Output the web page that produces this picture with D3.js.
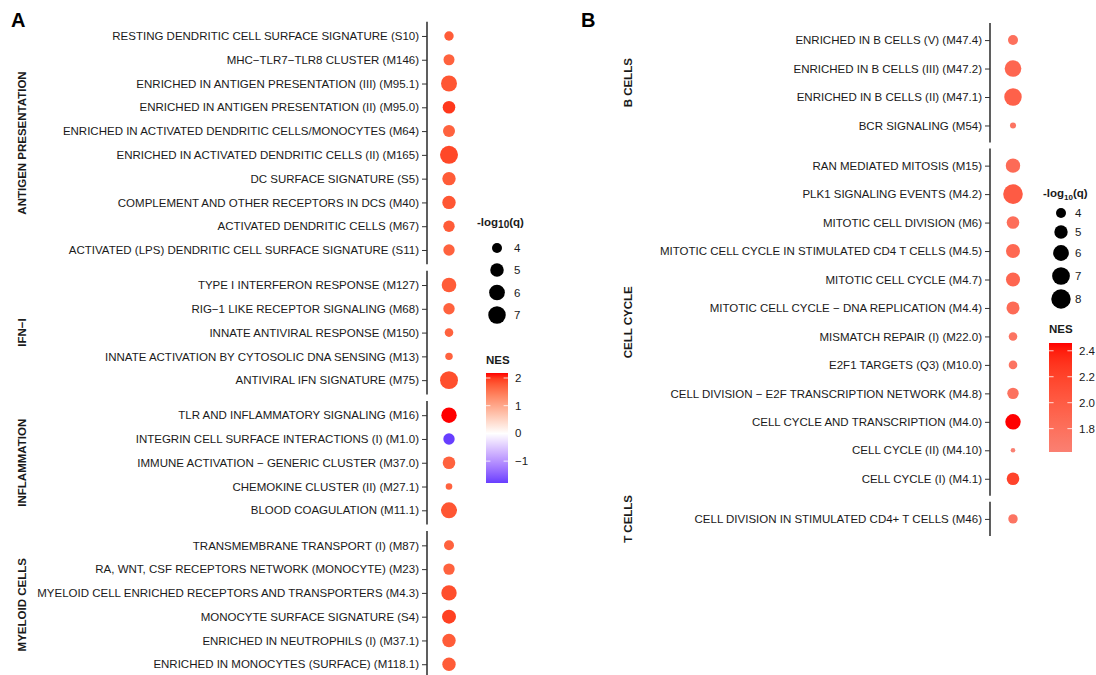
<!DOCTYPE html>
<html lang="en">
<head>
<meta charset="utf-8">
<title>Module enrichment dot plot</title>
<script src="https://cdn.jsdelivr.net/npm/d3@7"></script>
<style>
  body { margin: 0; background: #fff; font-family: "Liberation Sans", Arial, sans-serif; }
  .lab { font-size: 11.5px; fill: #1a1a1a; }
  .strip { font-size: 11.5px; font-weight: bold; fill: #1a1a1a; }
  .ltitle { font-size: 11.5px; font-weight: bold; fill: #1a1a1a; }
  .ltext { font-size: 11.5px; fill: #1a1a1a; }
  .panel-tag { font-size: 20px; font-weight: bold; fill: #000; }
</style>
</head>
<body>
<script>
// ---- panel A data ----
var groupsA = ["ANTIGEN PRESENTATION", "IFN\u2212I", "INFLAMMATION", "MYELOID CELLS"];
var labelsA = [
  "RESTING DENDRITIC CELL SURFACE SIGNATURE (S10)",
  "MHC\u2212TLR7\u2212TLR8 CLUSTER (M146)",
  "ENRICHED IN ANTIGEN PRESENTATION (III) (M95.1)",
  "ENRICHED IN ANTIGEN PRESENTATION (II) (M95.0)",
  "ENRICHED IN ACTIVATED DENDRITIC CELLS/MONOCYTES (M64)",
  "ENRICHED IN ACTIVATED DENDRITIC CELLS (II) (M165)",
  "DC SURFACE SIGNATURE (S5)",
  "COMPLEMENT AND OTHER RECEPTORS IN DCS (M40)",
  "ACTIVATED DENDRITIC CELLS (M67)",
  "ACTIVATED (LPS) DENDRITIC CELL SURFACE SIGNATURE (S11)",
  "TYPE I INTERFERON RESPONSE (M127)",
  "RIG\u22121 LIKE RECEPTOR SIGNALING (M68)",
  "INNATE ANTIVIRAL RESPONSE (M150)",
  "INNATE ACTIVATION BY CYTOSOLIC DNA SENSING (M13)",
  "ANTIVIRAL IFN SIGNATURE (M75)",
  "TLR AND INFLAMMATORY SIGNALING (M16)",
  "INTEGRIN CELL SURFACE INTERACTIONS (I) (M1.0)",
  "IMMUNE ACTIVATION \u2212 GENERIC CLUSTER (M37.0)",
  "CHEMOKINE CLUSTER (II) (M27.1)",
  "BLOOD COAGULATION (M11.1)",
  "TRANSMEMBRANE TRANSPORT (I) (M87)",
  "RA, WNT, CSF RECEPTORS NETWORK (MONOCYTE) (M23)",
  "MYELOID CELL ENRICHED RECEPTORS AND TRANSPORTERS (M4.3)",
  "MONOCYTE SURFACE SIGNATURE (S4)",
  "ENRICHED IN NEUTROPHILS (I) (M37.1)",
  "ENRICHED IN MONOCYTES (SURFACE) (M118.1)"
];
var groupOfA = [0,0,0,0,0,0,0,0,0,0, 1,1,1,1,1, 2,2,2,2,2, 3,3,3,3,3,3];
var nesA = [1.75, 1.70, 1.80, 2.00, 1.70, 1.90, 1.75, 1.80, 1.75, 1.70,
            1.75, 1.70, 1.70, 1.70, 1.85,
            2.18, -1.79, 1.70, 1.70, 1.80,
            1.70, 1.70, 1.85, 1.95, 1.75, 1.75];
var logqA = [3.90, 4.22, 6.13, 4.68, 4.49, 7.29, 4.96, 4.96, 4.32, 4.32,
             5.46, 4.32, 3.79, 3.70, 7.25,
             5.83, 4.32, 4.68, 3.68, 6.13,
             4.00, 4.32, 5.83, 5.20, 4.96, 4.96];
var sizeBreaksA = [4, 5, 6, 7];
var nesBreaksA = [2, 1, 0, -1];

// ---- panel B data ----
var groupsB = ["B CELLS", "CELL CYCLE", "T CELLS"];
var labelsB = [
  "ENRICHED IN B CELLS (V) (M47.4)",
  "ENRICHED IN B CELLS (III) (M47.2)",
  "ENRICHED IN B CELLS (II) (M47.1)",
  "BCR SIGNALING (M54)",
  "RAN MEDIATED MITOSIS (M15)",
  "PLK1 SIGNALING EVENTS (M4.2)",
  "MITOTIC CELL DIVISION (M6)",
  "MITOTIC CELL CYCLE IN STIMULATED CD4 T CELLS (M4.5)",
  "MITOTIC CELL CYCLE (M4.7)",
  "MITOTIC CELL CYCLE \u2212 DNA REPLICATION (M4.4)",
  "MISMATCH REPAIR (I) (M22.0)",
  "E2F1 TARGETS (Q3) (M10.0)",
  "CELL DIVISION \u2212 E2F TRANSCRIPTION NETWORK (M4.8)",
  "CELL CYCLE AND TRANSCRIPTION (M4.0)",
  "CELL CYCLE (II) (M4.10)",
  "CELL CYCLE (I) (M4.1)",
  "CELL DIVISION IN STIMULATED CD4+ T CELLS (M46)"
];
var groupOfB = [0,0,0,0, 1,1,1,1,1,1,1,1,1,1,1,1, 2];
var nesB = [1.80, 1.90, 1.95, 1.75,
            1.85, 2.00, 1.82, 1.88, 1.90, 1.85, 1.75, 1.75, 1.78, 2.46, 1.62, 2.20,
            1.75];
var logqB = [4.00, 6.42, 6.84, 3.43,
             5.40, 8.10, 4.73, 5.25, 5.25, 4.87, 3.72, 3.72, 4.36, 5.84, 3.386, 4.73,
             3.87];
var sizeBreaksB = [4, 5, 6, 7, 8];
var nesBreaksB = [2.4, 2.2, 2.0, 1.8];

var W = 1096, H = 675;
var svg = d3.select("body").append("svg")
  .attr("width", W).attr("height", H);

// ggplot-like area palette: radius grows with sqrt of rescaled value
function sizeScale(values, rmin, rmax) {
  var t = d3.scaleLinear().domain(d3.extent(values)).range([0, 1]);
  var r = d3.scaleLinear().domain([0, 1]).range([rmin, rmax]);
  return function(v) { return r(Math.sqrt(Math.max(0, t(v)))); };
}

function drawPanel(o) {
  var g = svg.append("g");
  // lay out facets with free space
  var counts = o.groups.map(function(d, i) {
    return o.groupOf.filter(function(k) { return k === i; }).length;
  });
  var units = d3.sum(counts, function(n) { return n - 1 + 1.2; });
  var step = (o.bottom - o.top - o.gap * (o.groups.length - 1)) / units;
  var y0 = o.top;
  var yPos = [];
  o.groups.forEach(function(name, gi) {
    var h = (counts[gi] - 1 + 1.2) * step;
    var rows = o.labels.filter(function(d, i) { return o.groupOf[i] === gi; });
    var y = d3.scalePoint().domain(rows).range([y0, y0 + h]).padding(0.6);
    rows.forEach(function(l) { yPos[o.labels.indexOf(l)] = y(l); });

    var axis = d3.axisLeft(y).tickSize(5).tickPadding(3);
    var ax = g.append("g")
      .attr("transform", "translate(" + o.axisX + ",0)")
      .call(axis);
    ax.select(".domain").attr("d", "M0," + y0 + "V" + (y0 + h))
      .attr("stroke", "#1a1a1a").attr("stroke-width", 1.4);
    ax.selectAll(".tick line").attr("stroke", "#333").attr("stroke-width", 1);
    ax.selectAll(".tick text").attr("class", "lab").attr("fill", null)
      .style("font-size", "11.5px").style("font-family", "'Liberation Sans', Arial, sans-serif");

    g.append("text").attr("class", "strip")
      .attr("transform", "translate(" + o.stripX + "," + (y0 + h / 2) + ") rotate(-90)")
      .attr("text-anchor", "middle").attr("dy", "0.35em")
      .text(name);
    y0 += h + o.gap;
  });

  g.selectAll("circle.dot").data(o.labels).enter().append("circle")
    .attr("class", "dot")
    .attr("cx", o.dotX)
    .attr("cy", function(d, i) { return yPos[i]; })
    .attr("r", function(d, i) { return o.size(o.logq[i]); })
    .attr("fill", function(d, i) { return o.color(o.nes[i]); });

  g.append("text").attr("class", "panel-tag")
    .attr("x", o.tagX).attr("y", 27).text(o.tag);
}

function sizeLegend(o) {
  var g = svg.append("g");
  var t = g.append("text").attr("class", "ltitle")
    .attr("x", o.x).attr("y", o.titleY);
  t.append("tspan").text("-log");
  t.append("tspan").attr("dy", o.subDy).style("font-size", o.subSize).text("10");
  t.append("tspan").attr("dy", -o.subDy).text("(q)");
  o.breaks.forEach(function(b, i) {
    g.append("circle").attr("cx", o.dotX).attr("cy", o.ys[i])
      .attr("r", o.size(b)).attr("fill", "#000");
    g.append("text").attr("class", "ltext")
      .attr("x", o.textX).attr("y", o.ys[i]).attr("dy", "0.35em").text(b);
  });
}

function colorLegend(o) {
  var g = svg.append("g");
  g.append("text").attr("class", "ltitle").attr("x", o.x).attr("y", o.titleY).text("NES");
  var yb = d3.scaleLinear().domain(o.domain).range([o.y1, o.y0]);
  var id = "grad" + o.id;
  var grad = svg.append("defs").append("linearGradient").attr("id", id)
    .attr("x1", 0).attr("y1", 1).attr("x2", 0).attr("y2", 0);
  d3.range(0, 1.0001, 0.05).forEach(function(f) {
    var v = o.domain[0] + f * (o.domain[1] - o.domain[0]);
    grad.append("stop").attr("offset", f).attr("stop-color", o.color(v));
  });
  g.append("rect").attr("x", o.x).attr("y", o.y0)
    .attr("width", o.w).attr("height", o.y1 - o.y0).attr("fill", "url(#" + id + ")");
  o.breaks.forEach(function(b) {
    var y = yb(b);
    g.append("line").attr("x1", o.x).attr("x2", o.x + o.w * 0.2)
      .attr("y1", y).attr("y2", y).attr("stroke", "#fff").attr("stroke-opacity", 0.8);
    g.append("line").attr("x1", o.x + o.w * 0.8).attr("x2", o.x + o.w)
      .attr("y1", y).attr("y2", y).attr("stroke", "#fff").attr("stroke-opacity", 0.8);
    g.append("text").attr("class", "ltext").attr("x", o.x + o.w + 7)
      .attr("y", y).attr("dy", "0.35em")
      .text(o.fmt(b));
  });
}

// colour scales
var extA = d3.extent(nesA);
var maxAbsA = d3.max(extA, function(v) { return Math.abs(v); });
var colorA = d3.scaleLinear().domain([-maxAbsA, 0, maxAbsA])
  .range(["blue", "white", "red"]).interpolate(d3.interpolateLab);
var colorB = d3.scaleLinear().domain(d3.extent(nesB))
  .range(["salmon", "red"]).interpolate(d3.interpolateLab);

var sizeA = sizeScale(logqA, 3.3, 9.0);
var sizeB = sizeScale(logqB, 2.3, 9.8);

drawPanel({
  tag: "A", tagX: 11, groups: groupsA, labels: labelsA, groupOf: groupOfA,
  nes: nesA, logq: logqA, color: colorA, size: sizeA,
  top: 21.7, bottom: 678.5, gap: 6.5, axisX: 427, dotX: 449, stripX: 22
});
drawPanel({
  tag: "B", tagX: 581, groups: groupsB, labels: labelsB, groupOf: groupOfB,
  nes: nesB, logq: logqB, color: colorB, size: sizeB,
  top: 23, bottom: 536, gap: 6, axisX: 990, dotX: 1013, stripX: 628
});

sizeLegend({ x: 477, titleY: 226, subDy: 1.5, subSize: "10px", breaks: sizeBreaksA,
  ys: [248, 270, 292.5, 315], dotX: 497, textX: 514, size: sizeA });
sizeLegend({ x: 1043, titleY: 197, subDy: 2.5, subSize: "8px", breaks: sizeBreaksB,
  ys: [213, 232, 253, 276, 299], dotX: 1061, textX: 1075, size: sizeB });

var fmtA = function(v) { return v < 0 ? "\u2212" + Math.abs(v) : String(v); };
colorLegend({ id: "A", x: 486, titleY: 364, y0: 373, y1: 483, w: 22,
  domain: extA, color: colorA, breaks: nesBreaksA, fmt: fmtA });
colorLegend({ id: "B", x: 1049, titleY: 333, y0: 343, y1: 452, w: 23,
  domain: d3.extent(nesB), color: colorB, breaks: nesBreaksB, fmt: d3.format(".1f") });
</script>
</body>
</html>
